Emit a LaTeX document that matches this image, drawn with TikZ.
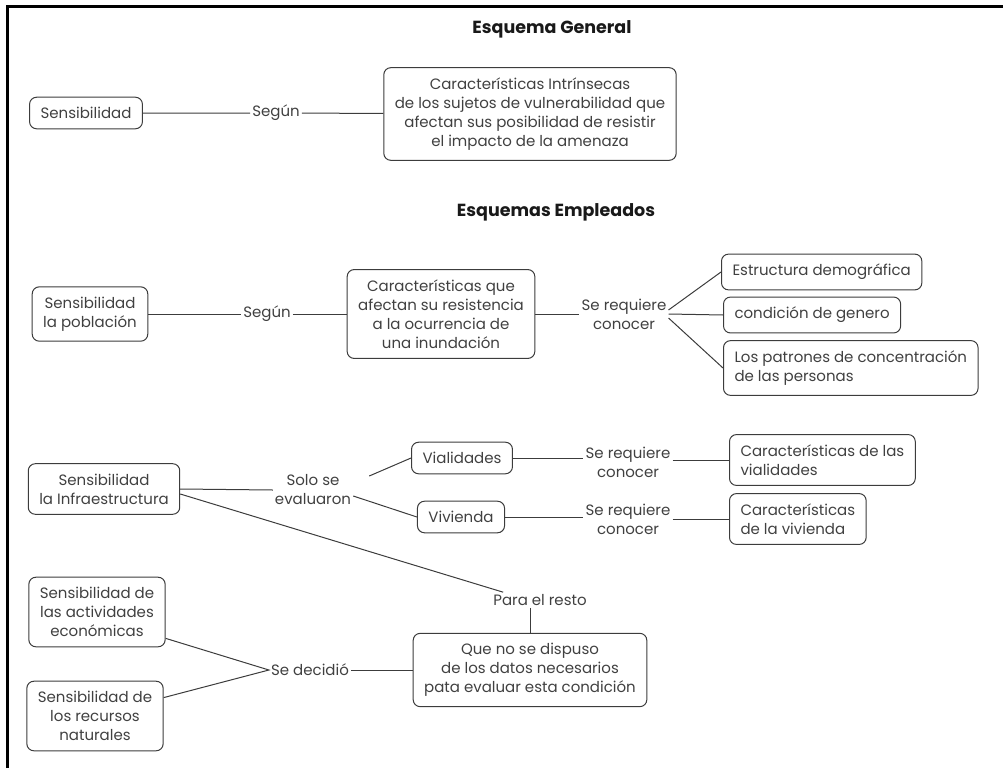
\documentclass[tikz,border=0pt]{standalone}
\usepackage{fontspec}
\setmainfont{Poppins}
\usepackage{tikz}
\definecolor{texto}{HTML}{404040}
\definecolor{borde}{HTML}{3C3C3C}

\begin{document}
\begin{tikzpicture}[x=1pt,y=-1pt,
        caja/.style={draw=borde,line width=1pt,rounded corners=7pt,align=center,text=texto,
            inner xsep=11pt,inner ysep=10pt,font=\fontsize{15}{19}\selectfont},
        cajaizq/.style={caja,align=left},
        etiqueta/.style={align=center,text=texto,inner sep=2pt,font=\fontsize{15}{19}\selectfont},
        titulo/.style={text=black!90,font=\fontsize{17.5}{22}\selectfont\bfseries},
        linea/.style={draw=borde,line width=1pt}]
                \useasboundingbox (0,0) rectangle (1003,768);
                \draw[line width=3pt] (7,768) -- (7,7) -- (1003,7);

                \node[titulo] (tgeneral) at (552,29) {Esquema General};
                \node[caja] (sens) at (86,113) {Sensibilidad};
                \node[etiqueta] (segun1) at (276,113) {Según};
                \node[caja] (intrinsecas) at (530,114) {Características Intrínsecas\\de los sujetos de vulnerabilidad que\\afectan sus posibilidad de resistir\\el impacto de la amenaza};
                \draw[linea] (sens) -- (segun1) -- (intrinsecas);

                \node[titulo] (templeados) at (556,212) {Esquemas Empleados};
                \node[caja] (poblacion) at (90,314) {Sensibilidad\\la población};
                \node[etiqueta] (segun2) at (267,314) {Según};
                \node[caja] (resistencia) at (441,314) {Características que\\afectan su resistencia\\a la ocurrencia de\\una inundación};
                \node[etiqueta] (requiere1) at (624,314) {Se requiere\\conocer};
                \node[cajaizq,anchor=west] (demografica) at (721,272) {Estructura demográfica};
                \node[cajaizq,anchor=west] (genero) at (723,315) {condición de genero};
                \node[cajaizq,anchor=west] (patrones) at (723,368) {Los patrones de concentración\\de las personas};
                \draw[linea] (poblacion) -- (segun2) -- (resistencia) -- (requiere1);
                \draw[linea] ([yshift=4pt]requiere1.east) -- (demografica.west);
                \draw[linea] (requiere1.east) -- (genero.west);
                \draw[linea] ([yshift=-4pt]requiere1.east) -- (patrones.west);

                \node[caja] (infra) at (104,489) {Sensibilidad\\la Infraestructura};
                \node[etiqueta] (evaluaron) at (313,490) {Solo se\\evaluaron};
                \node[caja] (vialidades) at (462,458) {Vialidades};
                \node[caja] (vivienda) at (461,517) {Vivienda};
                \node[etiqueta] (requiere2) at (628,462) {Se requiere\\conocer};
                \node[etiqueta] (requiere3) at (628,519) {Se requiere\\conocer};
                \node[cajaizq,anchor=west] (carvial) at (729,460) {Características de las\\vialidades};
                \node[cajaizq,anchor=west] (carviv) at (729,519) {Características\\de la vivienda};
                \draw[linea] (infra.east) -- (evaluaron.west);
                \draw[linea] ([xshift=16pt,yshift=14pt]evaluaron.east) -- (vialidades.west);
                \draw[linea] ([yshift=-6pt]evaluaron.east) -- (vivienda.west);
                \draw[linea] (vialidades.east) -- (vialidades.east -| requiere2.west);
                \draw[linea] (carvial.west -| requiere2.east) -- (carvial.west);
                \draw[linea] (vivienda.east) -- (vivienda.east -| requiere3.west);
                \draw[linea] (carviv.west -| requiere3.east) -- (carviv.west);

                \node[etiqueta] (resto) at (540,600) {Para el resto};
                \node[caja] (datos) at (530,670) {Que no se dispuso\\de los datos necesarios\\pata evaluar esta condición};
                \node[etiqueta] (decidio) at (310,670) {Se decidió};
                \node[caja] (actividades) at (97,612) {Sensibilidad de\\las actividades\\económicas};
                \node[caja] (recursos) at (95,716) {Sensibilidad de\\los recursos\\naturales};
                \draw[linea] ([yshift=-5pt]infra.east) -- ([xshift=12pt]resto.north west);
                \draw[linea] (resto.south -| datos.north) -- (datos.north);
                \draw[linea] (actividades.-21) -- (decidio.west) -- (recursos.15);
                \draw[linea] (decidio) -- (datos);
            \end{tikzpicture}
\end{document}
